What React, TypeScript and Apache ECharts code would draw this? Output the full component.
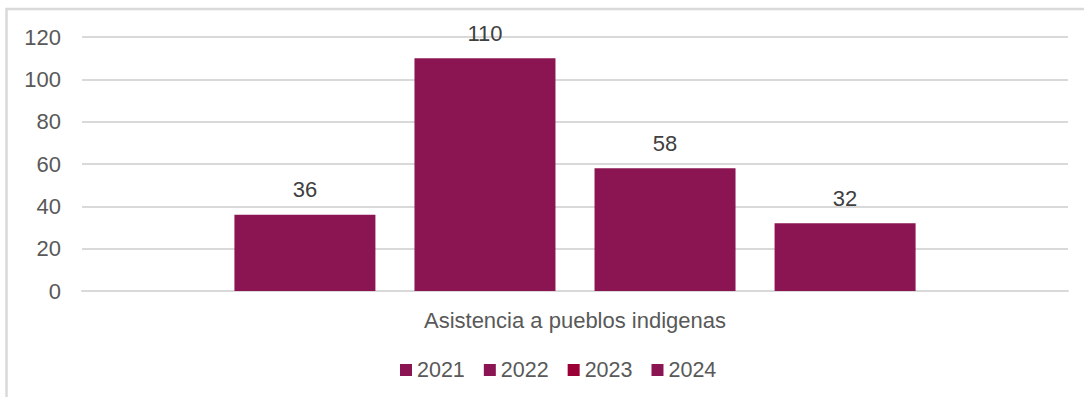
import React, { useEffect, useRef } from "react";
import * as echarts from "echarts";

const categories = ["Asistencia a pueblos indigenas"];
const seriesNames = ["2021", "2022", "2023", "2024"];
const values2021 = [36];
const values2022 = [110];
const values2023 = [58];
const values2024 = [32];
const yTicks = { min: 0, max: 120, interval: 20 };

const BAR = "#8B1552";
const LEGEND_2023 = "#9A0036";
const FONT = "'Liberation Sans', Arial, sans-serif";

export default function App() {
  const ref = useRef<HTMLDivElement>(null);
  useEffect(() => {
    if (!ref.current) return;
    const chart = echarts.init(ref.current, undefined, { renderer: "svg" });
    const allValues = [values2021, values2022, values2023, values2024];
    chart.setOption({
      animation: false,
      backgroundColor: "#ffffff",
      textStyle: { fontFamily: FONT },
      grid: { left: 82, right: 16, top: 37, bottom: 106, containLabel: false },
      graphic: [
        {
          type: "rect",
          shape: { x: 6.5, y: 9, width: 3000, height: 3000 },
          style: { fill: "none", stroke: "#d9d9d9", lineWidth: 2.5 },
          silent: true,
        },
      ],
      legend: {
        left: 395,
        top: 354,
        itemWidth: 12,
        itemHeight: 12,
        itemGap: 19,
        icon: "rect",
        textStyle: { fontSize: 21.5, color: "#595959", fontFamily: FONT },
        data: seriesNames.map((n) =>
          n === "2023" ? { name: n, itemStyle: { color: LEGEND_2023 } } : { name: n }
        ),
      },
      xAxis: {
        type: "category",
        data: categories,
        axisLine: { show: true, lineStyle: { color: "#d9d9d9", width: 2 } },
        axisTick: { show: false },
        axisLabel: { fontSize: 22, color: "#595959", margin: 18, fontFamily: FONT },
      },
      yAxis: {
        type: "value",
        min: yTicks.min,
        max: yTicks.max,
        interval: yTicks.interval,
        axisLine: { show: false },
        axisTick: { show: false },
        axisLabel: { fontSize: 22, color: "#595959", margin: 21, fontFamily: FONT },
        splitLine: { lineStyle: { color: "#d9d9d9", width: 2 } },
      },
      series: seriesNames.map((name, i) => ({
        name,
        type: "bar",
        data: allValues[i],
        barWidth: 141,
        barGap: "27.7%",
        itemStyle: { color: BAR },
        label: {
          show: true,
          position: "top",
          distance: 14,
          fontSize: 22,
          color: "#404040",
          fontFamily: FONT,
        },
      })),
    });
    return () => chart.dispose();
  }, []);
  return (
    <div
      ref={ref}
      style={{ position: "fixed", left: 0, top: 0, width: 1084, height: 397 }}
    />
  );
}
